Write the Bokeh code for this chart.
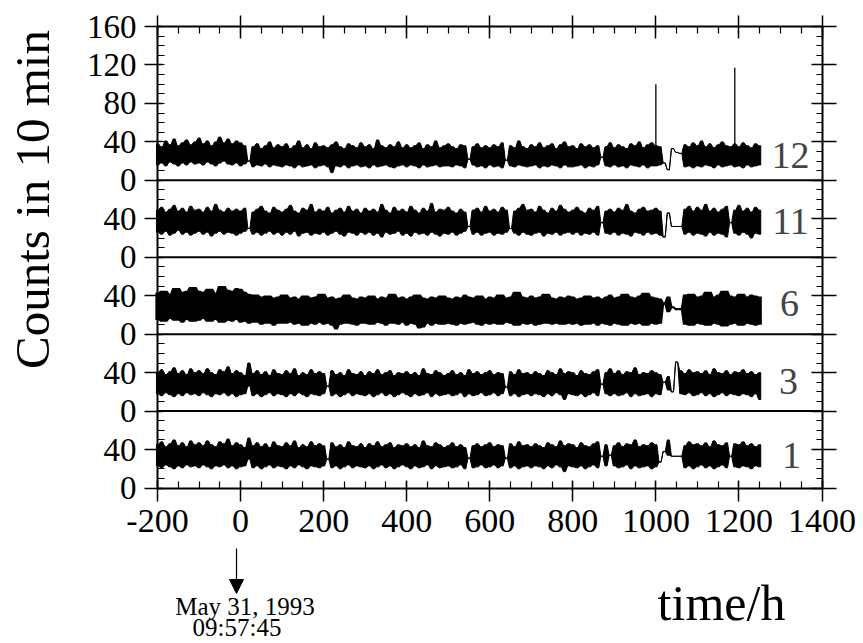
import math
from bokeh.plotting import figure
from bokeh.models import Range1d, FixedTicker, LinearAxis, Arrow, NormalHead
from bokeh.embed import file_html
from bokeh.resources import INLINE
from bokeh.core.properties import value

# time grid (hours relative to May 31, 1993 09:57:45), 10 h steps
hours = list(range(-200, 1251, 10))

# ---- detector 12 (counts per 10 min, band upper / lower envelope) ----
det12_hi = [38,35,41,37,43,36,39,42,37,40, 44,38,41,36,40,45,39,43,38,41,
            39,36,20,35,38,33,36,40,34,37, 35,38,33,36,41,34,37,33,39,35,
            36,34,37,40,35,33,38,36,34,39, 35,37,33,42,36,34,37,35,40,34,
            37,34,36,39,33,37,35,41,34,36, 38,35,33,37,36,22,35,38,34,36,
            34,37,35,39,21,36,34,41,35,33, 37,35,39,34,36,38,33,37,40,35,
            36,33,38,35,37,34,36,24,35,39, 34,37,35,33,38,36,40,34,37,39,
            36,35,18,11,33,29,28,37,35,39, 36,41,35,38,34,37,40,36,35,38,
            35,39,36,34,38,36]
det12_lo = [16,18,15,19,17,15,18,16,19,17, 18,16,19,17,15,18,20,17,16,18,
            15,17,20,14,16,15,17,14,16,15, 14,16,15,13,16,14,15,16,13,15,
            16,14,8,15,14,16,13,15,16,14, 15,13,16,14,15,16,14,13,15,16,
            14,16,15,13,16,14,15,16,14,15, 15,14,16,15,13,22,16,14,15,13,
            16,14,15,13,21,15,14,16,15,14, 15,16,13,15,14,16,15,13,16,14,
            14,15,16,13,15,14,16,24,15,14, 16,14,15,13,16,15,14,16,13,15,
            15,16,18,11,33,29,28,14,15,13, 15,14,16,15,13,16,14,15,16,14,
            15,13,16,14,15,16]
spike12_t = [1000, 1190]
spike12_top = [100, 117]

# ---- detector 11 ----
det11_hi = [49,52,47,50,54,48,51,47,53,49, 50,47,52,48,55,49,47,51,48,50,
            48,51,30,47,50,53,48,46,52,49, 47,50,54,48,46,51,49,55,47,50,
            48,52,46,49,51,47,53,48,50,46, 51,48,50,47,55,49,46,52,48,50,
            47,53,49,46,51,48,56,47,50,49, 52,48,46,50,47,32,49,51,47,53,
            48,50,47,52,49,30,48,51,55,49, 50,47,53,49,46,51,48,54,50,47,
            49,52,48,46,51,49,53,36,48,50, 47,51,49,55,48,46,50,52,48,49,
            51,48,21,46,32,32,32,50,53,48, 52,49,55,48,51,47,50,53,36,49,
            54,48,51,47,52,49]
det11_lo = [26,24,27,23,25,28,24,26,23,25, 27,24,26,22,25,27,24,26,25,23,
            25,27,30,24,26,23,25,27,24,26, 23,26,24,27,22,25,26,23,25,24,
            26,23,25,27,24,22,26,25,23,26, 24,26,23,25,21,26,24,25,27,23,
            25,22,26,24,25,23,26,24,22,25, 24,26,23,25,27,32,24,26,23,25,
            26,23,25,24,26,30,25,23,26,24, 23,25,26,22,25,24,26,23,25,26,
            24,26,23,25,24,26,23,36,25,24, 26,23,25,24,22,26,25,23,26,24,
            25,23,21,46,32,32,32,24,26,23, 25,24,22,26,23,25,24,21,36,25,
            23,26,24,20,25,24]

# ---- detector 6 ----
det6_hi = [42,44,44,41,47,47,43,44,48,48, 44,43,46,46,42,49,49,45,44,47,
           46,43,41,40,40,38,39,39,37,38, 40,40,37,38,36,39,39,37,38,41,
           41,37,38,36,37,40,40,37,36,38, 37,39,39,36,38,37,41,41,37,38,
           36,38,40,40,37,36,38,37,39,39, 37,36,38,37,40,38,37,39,39,36,
           38,37,40,40,37,38,43,43,38,37, 39,37,38,41,41,37,36,38,37,39,
           38,36,37,39,39,37,38,36,38,40, 37,38,41,41,38,37,39,42,42,38,
           37,36,32,38,28,26,26,40,41,41, 38,39,43,43,38,40,44,44,39,38,
           41,41,38,40,39,38]
det6_lo = [16,14,14,17,15,15,13,16,14,14, 15,17,14,14,16,13,13,15,14,16,
           13,14,12,13,13,11,12,12,10,12, 12,12,13,11,12,10,10,12,11,13,
           11,12,10,6,11,12,12,11,10,12, 12,11,11,13,12,10,12,12,11,13,
           10,12,11,7,8,12,10,12,11,11, 12,11,10,12,11,12,13,11,10,12,
           11,12,11,11,13,12,10,10,12,11, 12,10,11,12,12,11,12,11,11,12,
           11,12,10,11,11,12,10,12,11,10, 12,11,10,10,12,11,12,10,10,12,
           11,12,32,24,28,26,26,11,10,10, 12,11,10,10,12,11,9,9,11,12,
           10,10,12,11,10,11]

# ---- detector 3 ----
det3_hi = [40,43,38,41,45,39,42,38,44,40, 42,39,44,40,38,43,41,46,39,42,
           40,37,50,39,42,38,41,37,43,39, 38,42,39,44,37,40,38,43,39,41,
           39,26,42,38,40,37,43,39,38,41, 37,41,39,43,38,40,42,37,40,39,
           41,38,40,37,44,39,38,42,40,37, 39,42,38,40,37,43,39,41,38,40,
           42,38,40,39,25,41,38,43,39,40, 38,41,39,37,42,40,38,44,39,41,
           40,37,42,39,38,41,43,28,40,44, 39,42,38,41,40,45,38,40,39,42,
           40,38,30,36,20,51,42,39,43,40, 41,39,42,38,44,40,39,42,38,41,
           40,43,39,41,38,40]
det3_lo = [18,16,19,17,15,18,16,19,17,18, 16,19,17,15,18,17,19,16,18,15,
           17,18,26,16,18,15,17,19,16,18, 17,15,18,16,19,17,15,18,17,16,
           18,26,16,18,15,17,19,16,18,17, 16,18,15,17,19,16,18,15,17,19,
           17,15,18,16,17,19,15,18,16,17, 18,16,17,19,15,18,16,17,19,16,
           17,19,16,18,25,16,18,15,17,18, 16,18,17,15,18,16,19,17,12,18,
           17,16,18,15,17,19,16,28,18,16, 18,16,17,19,15,18,16,17,18,15,
           18,17,30,22,20,51,18,17,19,16, 17,19,16,18,15,17,19,16,18,17,
           16,18,17,15,18,12]

# ---- detector 1 ----
det1_hi = [45,48,43,46,50,44,47,43,49,45, 47,44,49,45,43,48,46,51,44,47,
           45,42,52,44,47,43,46,42,48,44, 43,47,44,49,42,45,43,48,44,46,
           44,30,47,43,45,42,48,44,43,46, 42,46,44,48,43,45,47,42,45,44,
           46,43,45,42,49,44,43,47,45,42, 44,47,43,45,42,31,44,46,43,45,
           47,43,45,44,31,46,43,48,44,45, 43,46,44,42,47,45,43,49,44,46,
           45,42,47,44,43,46,48,33,45,34, 44,47,43,46,45,50,43,45,44,47,
           45,27,38,50,33,33,33,44,48,45, 46,44,47,43,49,45,44,47,33,46,
           45,48,44,46,43,45]
det1_lo = [23,21,24,22,20,23,21,24,22,23, 21,24,22,20,23,22,24,21,23,20,
           22,23,30,21,23,20,22,24,21,23, 22,20,23,21,24,22,20,23,22,21,
           23,30,21,23,20,22,24,21,23,22, 21,23,20,22,24,21,23,20,22,24,
           22,20,23,21,22,24,20,23,21,22, 23,21,22,24,20,31,21,22,24,21,
           22,24,21,23,31,21,23,20,22,23, 21,23,22,20,23,21,24,22,17,23,
           22,21,23,20,22,24,21,33,23,34, 23,21,22,24,20,23,21,22,23,20,
           22,27,38,34,33,33,33,21,23,20, 22,24,21,23,20,22,24,21,33,22,
           21,23,22,20,23,22]

detectors = ["1", "3", "6", "11", "12"]
x_ticks = [-200, 0, 200, 400, 600, 800, 1000, 1200, 1400]

for s in [det1_lo, det1_hi, det3_lo, det3_hi, det6_lo, det6_hi,
          det11_lo, det11_hi, det12_lo, det12_hi]:
    assert len(s) == len(hours), len(s)

FONT = "Liberation Serif"
bases = [0, 80, 160, 240, 320]    # vertical stacking of the strips

# ---- canvas geometry: the frame covers the whole canvas, axes sit at fixed data locations
W, H = 860, 643
AX_L, AX_R, AX_T, AX_B = 157.0, 821.5, 26.0, 487.5      # pixel position of the plot box
SX = (AX_R - AX_L) / 1600.0
SY = (AX_B - AX_T) / 480.0
X0 = -200 - AX_L / SX
X1 = X0 + W / SX
Y1 = 480 + AX_T / SY
Y0 = Y1 - H / SY

def dx(px):
    return X0 + px / SX

def dy(py):
    return Y1 - py / SY

p = figure(width=W, height=H, x_range=Range1d(X0, X1), y_range=Range1d(Y0, Y1),
           output_backend="svg", toolbar_location=None,
           min_border_left=0, min_border_right=0, min_border_top=0, min_border_bottom=0,
           background_fill_color="white", border_fill_color="white")
p.outline_line_color = None
p.grid.visible = False

# each sample drawn as a short plateau (half-width HW hours) of its envelope
HW = 2.5
lows = [det1_lo, det3_lo, det6_lo, det11_lo, det12_lo]
highs = [det1_hi, det3_hi, det6_hi, det11_hi, det12_hi]
for base, lo, hi, name in zip(bases, lows, highs, detectors):
    xs, ys = [], []
    for t, v in zip(hours, hi):
        xs += [t - HW, t + HW]
        ys += [v + base, v + base]
    for t, v in zip(hours[::-1], lo[::-1]):
        xs += [t + HW, t - HW]
        ys += [v + base, v + base]
    lw = 2.2 if name == "6" else 1.0
    p.patch(xs, ys, fill_color="black", line_color="black", line_width=lw,
            line_join="miter")

# spikes in detector 12
p.segment(x0=spike12_t, y0=[bases[4] + 25] * len(spike12_t),
          x1=spike12_t, y1=[bases[4] + v for v in spike12_top],
          line_color="black", line_width=1.3)

# strip separators
seps = bases[1:]
p.segment(x0=[-200] * len(seps), x1=[1400] * len(seps), y0=seps, y1=seps,
          line_color="black", line_width=2)

# detector labels (right side)
lab_px = [(791, 455), (788, 381), (789, 303), (790, 221), (790, 155)]
p.text(x=[dx(a) for a, b in lab_px], y=[dy(b) for a, b in lab_px], text=detectors,
       text_font=value(FONT), text_font_size="38px", text_align="center",
       text_baseline="middle", text_color="#444444")

# ticks
y_major = [0, 40, 80, 120, 160, 200, 240, 280, 320, 360, 400, 440, 480]
y_minor = list(range(0, 481, 10))
y_labels = {0: "0", 40: "40", 80: "0", 120: "40", 160: "0", 200: "40", 240: "0",
            280: "40", 320: "0", 360: "40", 400: "80", 440: "120", 480: "160"}
x_minor = list(range(-200, 1401, 50))

def style(ax, tin, tout, mtin):
    ax.major_tick_in = tin
    ax.major_tick_out = tout
    ax.minor_tick_in = mtin
    ax.minor_tick_out = 0
    ax.axis_line_width = 2
    ax.major_tick_line_width = 1.5
    ax.minor_tick_line_width = 1.2
    ax.major_label_text_font = FONT
    ax.major_label_text_color = "black"

xa = p.xaxis[0]
xa.ticker = FixedTicker(ticks=x_ticks, minor_ticks=x_minor)
xa.fixed_location = 0
xa.bounds = (-200, 1400)
xa.major_label_overrides = {t: str(t) for t in x_ticks}
xa.major_label_text_font_size = "34px"
xa.major_label_standoff = 9
style(xa, 8, 13, 7)

ya = p.yaxis[0]
ya.ticker = FixedTicker(ticks=y_major, minor_ticks=y_minor)
ya.fixed_location = -200
ya.bounds = (0, 480)
ya.major_label_overrides = y_labels
ya.major_label_text_font_size = "33px"
ya.major_label_standoff = 8
style(ya, 5, 13, 7)

top = LinearAxis(ticker=FixedTicker(ticks=x_ticks, minor_ticks=x_minor),
                 fixed_location=480, bounds=(-200, 1400),
                 major_label_overrides={t: "" for t in x_ticks})
style(top, 12, 11, 7)
p.add_layout(top, "above")

right = LinearAxis(ticker=FixedTicker(ticks=y_major, minor_ticks=y_minor),
                   fixed_location=1400, bounds=(0, 480),
                   major_label_overrides={t: "" for t in y_major})
style(right, 11, 14, 6)
p.add_layout(right, "right")

# axis titles and annotation
p.text(x=[dx(32)], y=[dy(199)], text=["Counts in 10 min"], angle=math.pi / 2,
       text_align="center", text_baseline="alphabetic",
       text_font=value(FONT), text_font_size="49px", text_color="black")
p.text(x=[dx(721)], y=[dy(602)], text=["time/h"], text_align="center",
       text_baseline="alphabetic", text_font=value(FONT),
       text_font_size="50px", text_color="black")
p.text(x=[dx(244.5)], y=[dy(606)], text=["May 31, 1993"], text_align="center",
       text_baseline="alphabetic", text_font=value(FONT),
       text_font_size="25px", text_color="black")
p.text(x=[dx(236.5)], y=[dy(627)], text=["09:57:45"], text_align="center",
       text_baseline="alphabetic", text_font=value(FONT),
       text_font_size="25px", text_color="black")
p.add_layout(Arrow(end=NormalHead(size=14, fill_color="black", line_color="black"),
                   x_start=dx(236), y_start=dy(548), x_end=dx(236), y_end=dy(593),
                   line_color="black", line_width=1.2))

open("out.html", "w").write(file_html(p, INLINE))
